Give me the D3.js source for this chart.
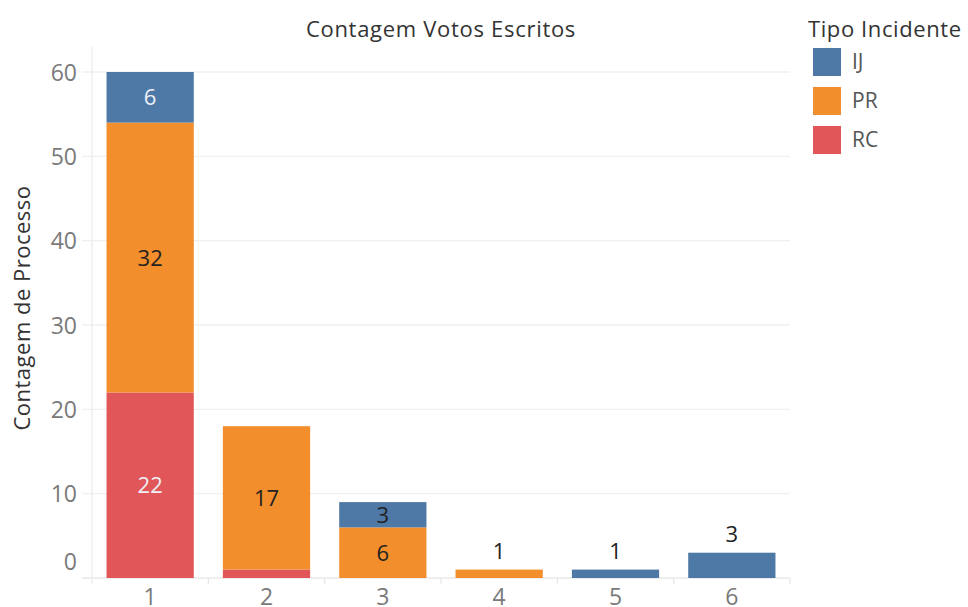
<!DOCTYPE html>
<html><head><meta charset="utf-8">
<script src="https://cdn.jsdelivr.net/npm/d3@7/dist/d3.min.js"></script>
<style>
html,body{margin:0;padding:0;background:#fff;}
svg{display:block;font-family:"Open Sans",sans-serif;}
</style></head>
<body><svg id="c" width="968" height="607"></svg>
<script>
const categories = ["1","2","3","4","5","6"];
const seriesNames = ["IJ","PR","RC"];
const IJ = [6, 0, 3, 0, 1, 3];
const PR = [32, 17, 6, 1, 0, 0];
const RC = [22, 1, 0, 0, 0, 0];
const yTicks = [0,10,20,30,40,50,60];
const chartTitle = "Contagem Votos Escritos";
const yTitle = "Contagem de Processo";
const legendTitle = "Tipo Incidente";
// labels drawn in light colour (category-series)
const lightLabels = ["1-IJ","1-RC"];

const colors = {IJ:"#4e79a7", PR:"#f28e2b", RC:"#e15759"};

const rows = categories.map((c,i)=>({cat:c, IJ:IJ[i], PR:PR[i], RC:RC[i]}));
const stackOrder = ["RC","PR","IJ"];
const stacked = d3.stack().keys(stackOrder)(rows);

const svg = d3.select("#c");
const pLeft = 92, pRight = 790, pTop = 72, pBottom = 578;

const x = d3.scaleBand().domain(categories).range([pLeft,pRight]).paddingInner(0.25).paddingOuter(0.125);
const y = d3.scaleLinear().domain([0,60]).range([pBottom, pTop]);

// gridlines
svg.append("g").selectAll("line").data(yTicks).join("line")
  .attr("x1", pLeft-10).attr("x2", pRight)
  .attr("y1", d=>y(d)).attr("y2", d=>y(d))
  .attr("stroke", d=> d===0 ? "#e8e8e8" : "#f0f0f0").attr("stroke-width",1.3);

// y axis line
svg.append("line").attr("x1",pLeft).attr("x2",pLeft).attr("y1",47).attr("y2",pBottom+6)
  .attr("stroke","#ececec").attr("stroke-width",1.3);

// x axis separators
const seps = categories.map(c=>x(c)-x.step()*x.paddingInner()/2).slice(1).concat([pRight]);
svg.append("g").selectAll("line").data(seps).join("line")
  .attr("x1",d=>d).attr("x2",d=>d).attr("y1",pBottom).attr("y2",pBottom+6)
  .attr("stroke","#e8e8e8").attr("stroke-width",1.3);

// y axis labels
const yAxis = d3.axisLeft(y).tickValues(yTicks).tickSize(0).tickPadding(0);
const gy = svg.append("g").attr("transform",`translate(${pLeft-15},0)`).call(yAxis);
gy.select(".domain").remove();
gy.selectAll("text").attr("fill","#7a7a7a").style("font-size","23px").style("font-family","'Open Sans',sans-serif")
  .attr("dy", d=> d===0 ? "-0.35em" : "0.35em");

// x axis labels
const xAxis = d3.axisBottom(x).tickSize(0).tickPadding(0);
const gx = svg.append("g").attr("transform",`translate(0,${pBottom})`).call(xAxis);
gx.select(".domain").remove();
gx.selectAll("text").attr("fill","#7a7a7a").style("font-size","23px").style("font-family","'Open Sans',sans-serif")
  .attr("y", 11).attr("dy","0.71em");

// bars
const layers = svg.append("g").selectAll("g").data(stacked).join("g").attr("fill", d=>colors[d.key]);
layers.selectAll("rect").data(d=>d.filter(v=>v[1]-v[0]>0)).join("rect")
  .attr("x", v=>x(v.data.cat)).attr("width", x.bandwidth())
  .attr("y", v=>y(v[1])).attr("height", v=>y(v[0])-y(v[1]));

// value labels
const labelData = [];
stacked.forEach(layer=>{
  layer.forEach(v=>{
    const val = v[1]-v[0];
    if(val<=0) return;
    const cat = v.data.cat;
    const nSeg = stackOrder.filter(k=>v.data[k]>0).length;
    const h = y(v[0])-y(v[1]);
    if(nSeg===1){
      labelData.push({cat, key:layer.key, val, ly:y(v[1])-11, mid:false});
    } else if(h>=20){
      labelData.push({cat, key:layer.key, val, ly:(y(v[0])+y(v[1]))/2, mid:true});
    }
  });
});
svg.append("g").selectAll("text").data(labelData).join("text")
  .attr("x", d=>x(d.cat)+x.bandwidth()/2)
  .attr("y", d=>d.mid ? d.ly+8 : d.ly)
  .attr("text-anchor","middle")
  .style("font-size","22px")
  .attr("fill", d=> lightLabels.includes(d.cat+"-"+d.key) ? "#eef0f6" : "#222")
  .text(d=>d.val);

// title
svg.append("text").attr("x",441).attr("y",37).attr("text-anchor","middle")
  .style("font-size","22px").style("letter-spacing","0.7px").attr("fill","#333").text(chartTitle);

// y title
svg.append("text").attr("transform","translate(30,308) rotate(-90)").attr("text-anchor","middle")
  .style("font-size","22px").style("letter-spacing","0.5px").attr("fill","#333").text(yTitle);

// legend
svg.append("text").attr("x",808).attr("y",37).style("font-size","22px").style("letter-spacing","0.6px").attr("fill","#333").text(legendTitle);
const lg = svg.append("g").selectAll("g").data(seriesNames).join("g")
  .attr("transform",(d,i)=>`translate(813,${48+i*39})`);
lg.append("rect").attr("width",28).attr("height",28).attr("fill",d=>colors[d]);
lg.append("text").attr("x",39).attr("y",14).attr("dy","0.35em").style("font-size","21px").attr("fill","#555").text(d=>d);
</script></body></html>
